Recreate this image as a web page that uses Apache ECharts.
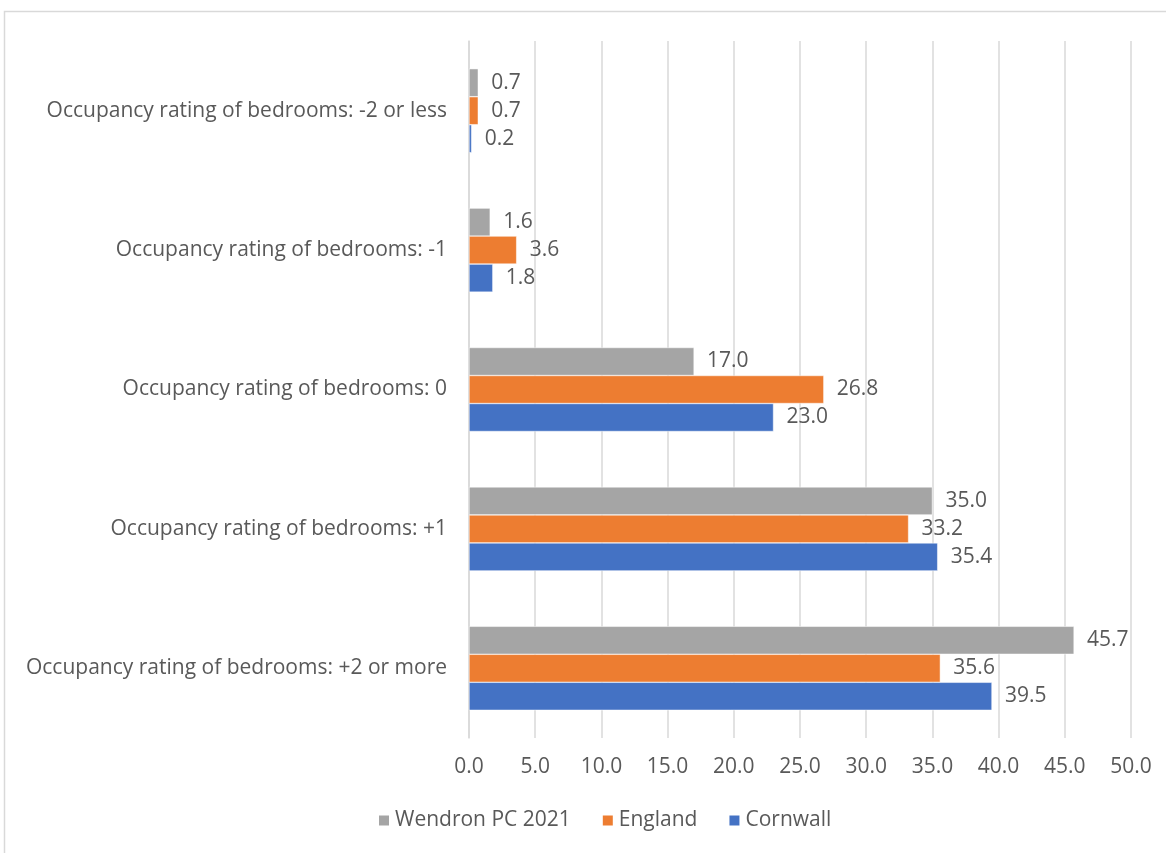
<!DOCTYPE html>
<html>
<head>
<meta charset="utf-8">
<script src="https://cdn.jsdelivr.net/npm/echarts@6/dist/echarts.min.js"></script>
<style>
html, body { margin: 0; padding: 0; background: #fff; }
#chart { width: 1166px; height: 853px; }
</style>
</head>
<body>
<div id="chart"></div>
<script>
var categories = [
    'Occupancy rating of bedrooms: -2 or less',
    'Occupancy rating of bedrooms: -1',
    'Occupancy rating of bedrooms: 0',
    'Occupancy rating of bedrooms: +1',
    'Occupancy rating of bedrooms: +2 or more'
];
var wendron = [0.7, 1.6, 17.0, 35.0, 45.7];
var england = [0.7, 3.6, 26.8, 33.2, 35.6];
var cornwall = [0.2, 1.8, 23.0, 35.4, 39.5];

var chart = echarts.init(document.getElementById('chart'));
var txt = '#595959';
var font = '"Open Sans", "Noto Sans", sans-serif';
var fs = 21;

function barSeries(name, data, color) {
    return {
        name: name,
        type: 'bar',
        data: data,
        barWidth: 28,
        barGap: '0%',
        itemStyle: { color: color, borderColor: '#fff', borderWidth: 0.5 },
        label: {
            show: true,
            position: 'right',
            distance: 13,
            color: txt,
            fontSize: fs,
            fontFamily: font,
            formatter: function (p) { return p.value.toFixed(1); }
        }
    };
}

chart.setOption({
    animation: false,
    textStyle: { fontFamily: font },
    graphic: [{
        type: 'rect',
        shape: { x: 4.5, y: 11.5, width: 1200, height: 900 },
        style: { fill: 'none', stroke: '#d9d9d9', lineWidth: 1.5 },
        silent: true
    }],
    legend: {
        bottom: 17,
        left: 372,
        icon: 'rect',
        itemWidth: 12,
        itemHeight: 12,
        itemGap: 30,
        textStyle: { color: txt, fontSize: fs, fontFamily: font },
        data: ['Wendron PC 2021', 'England', 'Cornwall']
    },
    grid: { left: 469, right: 35, top: 41, bottom: 115 },
    xAxis: {
        type: 'value',
        min: 0,
        max: 50,
        interval: 5,
        axisLine: { show: false },
        axisTick: { show: false },
        splitLine: { lineStyle: { color: '#d9d9d9', width: 1.5 } },
        axisLabel: {
            color: txt, fontSize: fs, fontFamily: font, margin: 19,
            formatter: function (v) { return v.toFixed(1); }
        }
    },
    yAxis: {
        type: 'category',
        inverse: true,
        data: categories,
        axisLine: { lineStyle: { color: '#d9d9d9', width: 1.5 } },
        axisTick: { show: false },
        axisLabel: { color: txt, fontSize: fs, fontFamily: font, margin: 22 }
    },
    series: [
        barSeries('Wendron PC 2021', wendron, '#A5A5A5'),
        barSeries('England', england, '#ED7D31'),
        barSeries('Cornwall', cornwall, '#4472C4')
    ]
});
</script>
</body>
</html>
